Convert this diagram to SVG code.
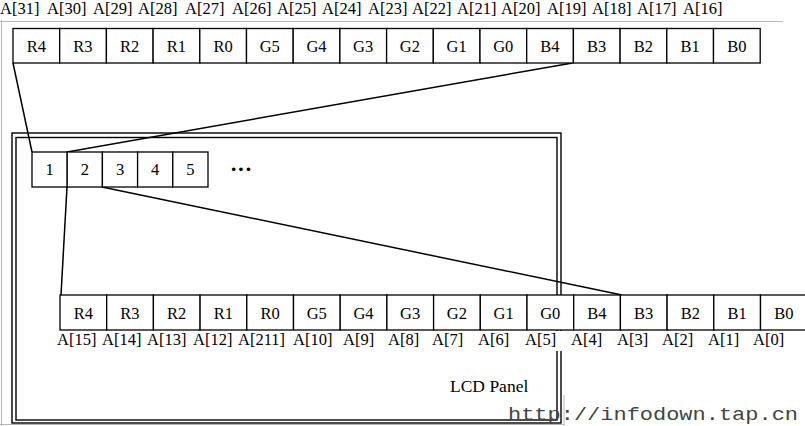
<svg xmlns="http://www.w3.org/2000/svg" width="805" height="426" viewBox="0 0 805 426">
<style>
.b{fill:#fff;stroke:#000;stroke-width:1.3}
.t{font-family:"Liberation Serif","Times New Roman",serif;font-size:16.5px;fill:#000;text-anchor:middle}
.a{font-family:"Liberation Serif","Times New Roman",serif;font-size:16.5px;fill:#000}
.c{fill:none;stroke:#000;stroke-width:1.5}
.p{fill:none;stroke:#000;stroke-width:1.4}
.g{stroke:#b8b8b8;stroke-width:1;fill:none}
</style>
<rect width="805" height="426" fill="#fff"/>
<g id="frame">
<line class="g" x1="1.5" y1="20" x2="1.5" y2="426"/>
<line class="g" x1="0" y1="21.5" x2="783" y2="21.5"/>
<line class="g" x1="0" y1="424.5" x2="564" y2="424.5"/>
<line class="g" x1="564" y1="395" x2="564" y2="426"/>
</g>
<g id="top-labels">
<text class="a" x="0" y="14">A[31]</text>
<text class="a" x="47" y="14">A[30]</text>
<text class="a" x="93" y="14">A[29]</text>
<text class="a" x="138" y="14">A[28]</text>
<text class="a" x="185" y="14">A[27]</text>
<text class="a" x="232" y="14">A[26]</text>
<text class="a" x="277" y="14">A[25]</text>
<text class="a" x="322" y="14">A[24]</text>
<text class="a" x="368" y="14">A[23]</text>
<text class="a" x="412" y="14">A[22]</text>
<text class="a" x="457" y="14">A[21]</text>
<text class="a" x="501" y="14">A[20]</text>
<text class="a" x="547" y="14">A[19]</text>
<text class="a" x="592" y="14">A[18]</text>
<text class="a" x="637" y="14">A[17]</text>
<text class="a" x="683" y="14">A[16]</text>
</g>
<g id="lcd-panel">
<rect class="p" x="12" y="133" width="549" height="290"/>
<rect class="p" x="16" y="137.5" width="541" height="282.5"/>
<text class="a" x="450" y="392" style="font-size:17.5px">LCD Panel</text>
</g>
<g id="connectors">
<line class="c" x1="13" y1="63" x2="32" y2="152"/>
<line class="c" x1="572.5" y1="63" x2="67" y2="152"/>
<line class="c" x1="67" y1="187" x2="61" y2="295"/>
<line class="c" x1="102" y1="187" x2="622" y2="295"/>
</g>
<g id="top-row">
<g id="top-R4"><rect class="b" x="13" y="28.5" width="46.7" height="34.5"/><text class="t" x="36.4" y="52">R4</text></g>
<g id="top-R3"><rect class="b" x="59.7" y="28.5" width="46.7" height="34.5"/><text class="t" x="83" y="52">R3</text></g>
<g id="top-R2"><rect class="b" x="106.4" y="28.5" width="46.7" height="34.5"/><text class="t" x="129.7" y="52">R2</text></g>
<g id="top-R1"><rect class="b" x="153.1" y="28.5" width="46.7" height="34.5"/><text class="t" x="176.4" y="52">R1</text></g>
<g id="top-R0"><rect class="b" x="199.8" y="28.5" width="46.7" height="34.5"/><text class="t" x="223.1" y="52">R0</text></g>
<g id="top-G5"><rect class="b" x="246.5" y="28.5" width="46.7" height="34.5"/><text class="t" x="269.8" y="52">G5</text></g>
<g id="top-G4"><rect class="b" x="293.2" y="28.5" width="46.7" height="34.5"/><text class="t" x="316.5" y="52">G4</text></g>
<g id="top-G3"><rect class="b" x="339.9" y="28.5" width="46.7" height="34.5"/><text class="t" x="363.2" y="52">G3</text></g>
<g id="top-G2"><rect class="b" x="386.6" y="28.5" width="46.7" height="34.5"/><text class="t" x="409.9" y="52">G2</text></g>
<g id="top-G1"><rect class="b" x="433.3" y="28.5" width="46.7" height="34.5"/><text class="t" x="456.6" y="52">G1</text></g>
<g id="top-G0"><rect class="b" x="480" y="28.5" width="46.7" height="34.5"/><text class="t" x="503.3" y="52">G0</text></g>
<g id="top-B4"><rect class="b" x="526.7" y="28.5" width="46.7" height="34.5"/><text class="t" x="550" y="52">B4</text></g>
<g id="top-B3"><rect class="b" x="573.4" y="28.5" width="46.7" height="34.5"/><text class="t" x="596.7" y="52">B3</text></g>
<g id="top-B2"><rect class="b" x="620.1" y="28.5" width="46.7" height="34.5"/><text class="t" x="643.4" y="52">B2</text></g>
<g id="top-B1"><rect class="b" x="666.8" y="28.5" width="46.7" height="34.5"/><text class="t" x="690.1" y="52">B1</text></g>
<g id="top-B0"><rect class="b" x="713.5" y="28.5" width="46.7" height="34.5"/><text class="t" x="736.8" y="52">B0</text></g>
</g>
<g id="pixel-row">
<g id="pixel-1"><rect class="b" x="32" y="152" width="35.2" height="35"/><text class="t" x="49.6" y="175">1</text></g>
<g id="pixel-2"><rect class="b" x="67.2" y="152" width="35.2" height="35"/><text class="t" x="84.8" y="175">2</text></g>
<g id="pixel-3"><rect class="b" x="102.4" y="152" width="35.2" height="35"/><text class="t" x="120" y="175">3</text></g>
<g id="pixel-4"><rect class="b" x="137.6" y="152" width="35.2" height="35"/><text class="t" x="155.2" y="175">4</text></g>
<g id="pixel-5"><rect class="b" x="172.8" y="152" width="35.2" height="35"/><text class="t" x="190.4" y="175">5</text></g>
<g id="pixel-more"><text class="t" x="241" y="176" style="font-weight:bold;font-size:22px">···</text></g>
</g>
<g id="bottom-row">
<g id="bot-R4"><rect class="b" x="60" y="295" width="46.7" height="35"/><text class="t" x="83.4" y="319">R4</text></g>
<g id="bot-R3"><rect class="b" x="106.7" y="295" width="46.7" height="35"/><text class="t" x="130" y="319">R3</text></g>
<g id="bot-R2"><rect class="b" x="153.4" y="295" width="46.7" height="35"/><text class="t" x="176.7" y="319">R2</text></g>
<g id="bot-R1"><rect class="b" x="200.1" y="295" width="46.7" height="35"/><text class="t" x="223.4" y="319">R1</text></g>
<g id="bot-R0"><rect class="b" x="246.8" y="295" width="46.7" height="35"/><text class="t" x="270.1" y="319">R0</text></g>
<g id="bot-G5"><rect class="b" x="293.5" y="295" width="46.7" height="35"/><text class="t" x="316.8" y="319">G5</text></g>
<g id="bot-G4"><rect class="b" x="340.2" y="295" width="46.7" height="35"/><text class="t" x="363.5" y="319">G4</text></g>
<g id="bot-G3"><rect class="b" x="386.9" y="295" width="46.7" height="35"/><text class="t" x="410.2" y="319">G3</text></g>
<g id="bot-G2"><rect class="b" x="433.6" y="295" width="46.7" height="35"/><text class="t" x="456.9" y="319">G2</text></g>
<g id="bot-G1"><rect class="b" x="480.3" y="295" width="46.7" height="35"/><text class="t" x="503.6" y="319">G1</text></g>
<g id="bot-G0"><rect class="b" x="527" y="295" width="46.7" height="35"/><text class="t" x="550.3" y="319">G0</text></g>
<g id="bot-B4"><rect class="b" x="573.7" y="295" width="46.7" height="35"/><text class="t" x="597" y="319">B4</text></g>
<g id="bot-B3"><rect class="b" x="620.4" y="295" width="46.7" height="35"/><text class="t" x="643.7" y="319">B3</text></g>
<g id="bot-B2"><rect class="b" x="667.1" y="295" width="46.7" height="35"/><text class="t" x="690.4" y="319">B2</text></g>
<g id="bot-B1"><rect class="b" x="713.8" y="295" width="46.7" height="35"/><text class="t" x="737.1" y="319">B1</text></g>
<g id="bot-B0"><rect class="b" x="760.5" y="295" width="46.7" height="35"/><text class="t" x="783.8" y="319">B0</text></g>
</g>
<g id="bottom-labels">
<rect x="55" y="331" width="750" height="20" fill="#fff"/>
<text class="a" x="57" y="345">A[15]</text>
<text class="a" x="102" y="345">A[14]</text>
<text class="a" x="147" y="345">A[13]</text>
<text class="a" x="193" y="345">A[12]</text>
<text class="a" x="238" y="345">A[211]</text>
<text class="a" x="293" y="345">A[10]</text>
<text class="a" x="343" y="345">A[9]</text>
<text class="a" x="388" y="345">A[8]</text>
<text class="a" x="432" y="345">A[7]</text>
<text class="a" x="478" y="345">A[6]</text>
<text class="a" x="525" y="345">A[5]</text>
<text class="a" x="571" y="345">A[4]</text>
<text class="a" x="617" y="345">A[3]</text>
<text class="a" x="662" y="345">A[2]</text>
<text class="a" x="708" y="345">A[1]</text>
<text class="a" x="753" y="345">A[0]</text>
</g>
<g id="url">
<text x="508" y="420" textLength="290" lengthAdjust="spacingAndGlyphs" style="font-family:'Liberation Mono','Courier New',monospace;font-size:19px;fill:#444">http://infodown.tap.cn</text>
</g>
</svg>
